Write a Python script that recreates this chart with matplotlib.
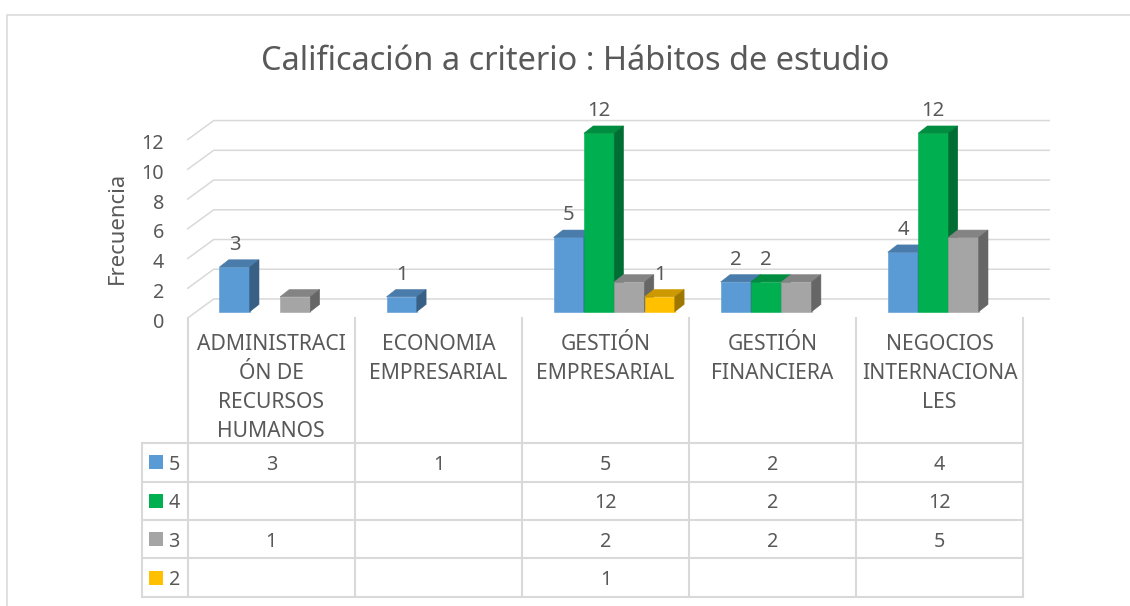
import matplotlib
matplotlib.use("Agg")
import matplotlib.pyplot as plt
from matplotlib.patches import Polygon, Rectangle
import matplotlib.colors as mcolors

# ---------------- data ----------------
categories = ["ADMINISTRACIÓN DE RECURSOS HUMANOS", "ECONOMIA EMPRESARIAL",
              "GESTIÓN EMPRESARIAL", "GESTIÓN FINANCIERA", "NEGOCIOS INTERNACIONALES"]
category_lines = [["ADMINISTRACI", "ÓN DE", "RECURSOS", "HUMANOS"],
                  ["ECONOMIA", "EMPRESARIAL"],
                  ["GESTIÓN", "EMPRESARIAL"],
                  ["GESTIÓN", "FINANCIERA"],
                  ["NEGOCIOS", "INTERNACIONA", "LES"]]
series_names = ["5", "4", "3", "2"]
values_5 = [3, 1, 5, 2, 4]
values_4 = [None, None, 12, 2, 12]
values_3 = [1, None, 2, 2, 5]
values_2 = [None, None, 1, None, None]
series_values = [values_5, values_4, values_3, values_2]
series_colors = ["#5B9BD5", "#00B050", "#A5A5A5", "#FFC000"]
series_show_labels = [True, True, False, True]
y_ticks = [0, 2, 4, 6, 8, 10, 12]
title_text = "Calificación a criterio : Hábitos de estudio"
y_title = "Frecuencia"

# ---------------- style / layout ----------------
W, H = 1130, 606
TXT = "#595959"
GRID = "#D9D9D9"
plt.rcParams['font.family'] = ['Noto Sans', 'DejaVu Sans']

fig = plt.figure(figsize=(W / 100, H / 100), dpi=100)
fig.patch.set_facecolor("white")

n_cat = len(categories)
X0, CW = 187.7, 167.1          # left of first category, px per category
Y0, SY = 311.7, 14.87          # bar base, px per value unit
FLOOR_FRONT = 318.0
ymin = -(FLOOR_FRONT - Y0) / SY
ymax = 13.0
top_px = Y0 - ymax * SY
ax = fig.add_axes([X0 / W, 1 - FLOOR_FRONT / H, n_cat * CW / W, (FLOOR_FRONT - top_px) / H])
ax.set_xlim(0, n_cat)
ax.set_ylim(ymin, ymax)
ax.axis('off')

# back wall gridlines (3D look) and tick labels
fdx, fdy = 26 / CW, 19 / SY
for v in y_ticks:
    yb = v + ymin
    ax.plot([0, fdx, n_cat + fdx], [yb, yb + fdy, yb + fdy], color=GRID, lw=1.1,
            clip_on=False, zorder=1, solid_joinstyle='miter')
    ax.text((164 - X0) / CW, yb - 2 / SY, str(v), ha='right', va='center_baseline',
            fontsize=14.2, color=TXT)

ax.text((117 - X0) / CW, (Y0 - 228) / SY, y_title, rotation=90, ha='center', va='center',
        fontsize=15.9, color=TXT)


def shade(c, f):
    r, g, b = mcolors.to_rgb(c)
    return (r * f, g * f, b * f)


off, bw = 31.7 / CW, 30.3 / CW
bdx, bdy = 9.3 / CW, 7.3 / SY
for j, (vals, col, show) in enumerate(zip(series_values, series_colors, series_show_labels)):
    top_c = shade(col, 0.8)
    side_c = shade(col, 0.62)
    for i, v in enumerate(vals):
        if v is None:
            continue
        xl = i + off + j * bw
        ax.bar(xl, v, bw, align='edge', color=col, edgecolor=col, lw=0.4, zorder=3 + j)
        ax.add_patch(Polygon([(xl, v), (xl + bw, v), (xl + bw + bdx, v + bdy), (xl + bdx, v + bdy)],
                             closed=True, fc=top_c, ec=top_c, lw=0.4, zorder=3.4 + j))
        ax.add_patch(Polygon([(xl + bw, 0), (xl + bw + bdx, bdy), (xl + bw + bdx, v + bdy), (xl + bw, v)],
                             closed=True, fc=side_c, ec=side_c, lw=0.4, zorder=3.4 + j))
        if show:
            ax.annotate(str(v), (xl + bw / 2, v), xytext=(0, 12.2), textcoords='offset points',
                        ha='center', va='baseline', fontsize=14.6, color=TXT, zorder=10,
                        annotation_clip=False)

# title
fig.text(575 / W, 1 - 70 / H, title_text, ha='center', va='baseline', fontsize=23.4, color=TXT)

# ---------------- data table ----------------
T_TOP, T_HDR, RH = 318.0, 443.3, 38.35
n_rows = len(series_names)
T_BOT = T_HDR + n_rows * RH
HR = (T_HDR - T_TOP) / RH
tax = fig.add_axes([X0 / W, 1 - T_BOT / H, n_cat * CW / W, (T_BOT - T_TOP) / H])
tax.set_xlim(0, n_cat)
tax.set_ylim(n_rows, -HR)
tax.axis('off')
LEG_L = (141.7 - X0) / CW
lkw = dict(color=GRID, lw=1.5, clip_on=False, solid_capstyle='projecting')
for r in range(n_rows + 1):
    tax.plot([LEG_L, n_cat], [r, r], **lkw)
for c in range(n_cat + 1):
    tax.plot([c, c], [-HR, n_rows], **lkw)
tax.plot([LEG_L, LEG_L], [0, n_rows], **lkw)

for i, lines in enumerate(category_lines):
    for k, s in enumerate(lines):
        tax.text(i + 0.5, -HR + (32 + 29 * k) / RH, s, ha='center', va='baseline',
                 fontsize=15.2, color=TXT)

for r, (name, vals, col) in enumerate(zip(series_names, series_values, series_colors)):
    tax.add_patch(Rectangle(((149 - X0) / CW, r + 0.5 - 7 / RH), 14 / CW, 14 / RH,
                            fc=col, ec='none', clip_on=False))
    tax.text((168.5 - X0) / CW, r + 0.5, name, ha='left', va='center_baseline',
             fontsize=14.2, color=TXT)
    for i, v in enumerate(vals):
        if v is not None:
            tax.text(i + 0.5, r + 0.5, str(v), ha='center', va='center_baseline',
                     fontsize=14.2, color=TXT)

# chart border
fig.add_artist(Rectangle((7.3 / W, -0.05), 1.2, 1 - 14.5 / H + 0.05, transform=fig.transFigure,
                         fill=False, ec=GRID, lw=1.1))

fig.savefig("out.png", dpi=100, facecolor="white")
